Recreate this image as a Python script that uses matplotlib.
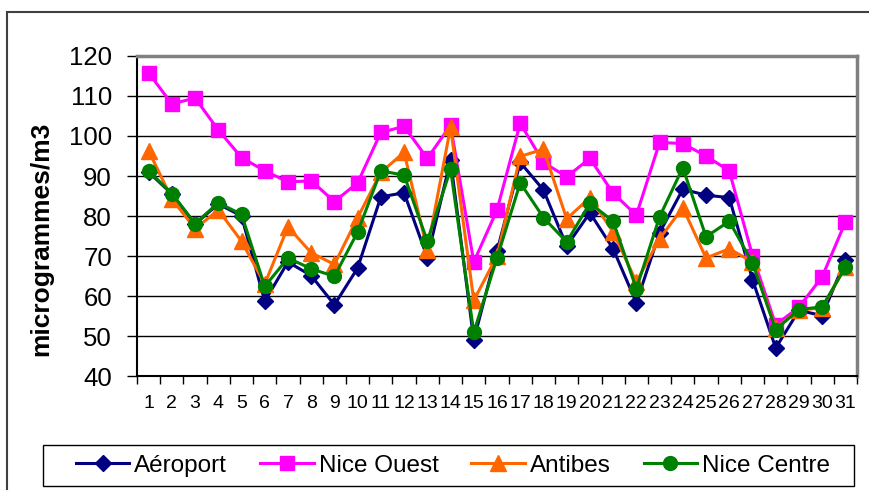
import matplotlib
matplotlib.use("Agg")
import matplotlib.pyplot as plt
from matplotlib.patches import Rectangle

plt.rcParams['font.family'] = ['Liberation Sans', 'DejaVu Sans']

# Jours du mois
days = list(range(1, 32))

# Concentrations par station (microgrammes/m3)
aeroport = [91.0, 85.5, 78.0, 83.0, 80.0, 58.7, 68.5, 65.1, 57.8, 67.0,
            84.8, 85.8, 69.6, 94.0, 49.0, 71.2, 93.4, 86.5, 72.5, 80.8,
            71.8, 58.3, 75.8, 86.7, 85.2, 84.6, 64.1, 47.0, 56.4, 55.1, 69.0]
nice_ouest = [115.8, 108.0, 109.5, 101.5, 94.6, 91.3, 88.5, 88.8, 83.6, 88.3,
              100.9, 102.4, 94.4, 102.7, 68.5, 81.5, 103.2, 93.4, 89.8, 94.4,
              85.7, 80.2, 98.4, 98.1, 95.0, 91.3, 70.1, 52.8, 57.2, 64.8, 78.5]
antibes = [96.3, 84.3, 76.8, 81.5, 73.7, 63.0, 77.3, 70.8, 67.9, 79.6,
           90.9, 95.9, 71.5, 102.2, 58.9, 70.0, 94.9, 96.7, 79.3, 84.6,
           76.0, 63.5, 74.3, 82.1, 69.5, 71.8, 68.5, 52.0, 56.5, 57.0, 67.3]
nice_centre = [91.3, 85.6, 78.1, 83.3, 80.4, 62.4, 69.5, 66.8, 64.9, 76.0,
               91.3, 90.2, 73.7, 91.7, 50.9, 69.5, 88.3, 79.6, 73.5, 83.2,
               78.7, 61.8, 79.8, 92.1, 74.8, 78.7, 68.3, 51.6, 56.6, 57.3, 67.2]

W, H = 869, 490
fig = plt.figure(figsize=(W / 100, H / 100), dpi=100)

# cadre du graphique (coupé à droite et en bas)
fig.patches.append(Rectangle((7 / W, -0.1), 1.2, 1.1 - 12 / H, transform=fig.transFigure,
                             fill=False, edgecolor='#404040', linewidth=1.5))

ax = fig.add_axes([137 / W, 1 - 376 / H, 720 / W, 320 / H])

ax.plot(days, aeroport, color='#000080', marker='D', markersize=8, linewidth=2.2, label='Aéroport')
ax.plot(days, nice_ouest, color='#FF00FF', marker='s', markersize=10, linewidth=2.2, label='Nice Ouest')
ax.plot(days, antibes, color='#FF6600', marker='^', markersize=11, linewidth=2.2, label='Antibes')
ax.plot(days, nice_centre, color='#008000', marker='o', markersize=10, linewidth=2.2, label='Nice Centre')

ax.set_xlim(0.5, 31.5)
ax.set_ylim(40, 120)
ax.set_yticks(range(40, 121, 10))
ax.yaxis.grid(True, color='black', linewidth=1)
ax.set_axisbelow(True)

ax.set_xticks(days)
ax.set_xticks([d + 0.5 for d in range(0, 32)], minor=True)
ax.tick_params(axis='x', which='major', length=0, labelsize=14, pad=14)
ax.tick_params(axis='x', which='minor', length=6, width=1, direction='out')
ax.tick_params(axis='y', length=7, width=1, direction='out', labelsize=18.5, pad=11)

for side in ['left', 'bottom']:
    ax.spines[side].set_color('black')
    ax.spines[side].set_linewidth(1.5)
for side in ['top', 'right']:
    ax.spines[side].set_color('#808080')
    ax.spines[side].set_linewidth(2.5)

ax.set_ylabel('microgrammes/m3', fontsize=19, fontweight='bold')
ax.yaxis.set_label_coords(-0.117, 0.43)

# cadre de la légende
fig.patches.append(Rectangle((43 / W, 1 - 486 / H), 811 / W, 41 / H, transform=fig.transFigure,
                             facecolor='white', edgecolor='black', linewidth=1))
fig.legend(loc='center', bbox_to_anchor=(76 / W, 1 - 486 / H, 754 / W, 41 / H), mode='expand',
           ncol=4, fontsize=17.5, frameon=False, handlelength=2.2, handletextpad=0.2,
           borderpad=0, borderaxespad=0)

fig.savefig('out.png', dpi=100)
